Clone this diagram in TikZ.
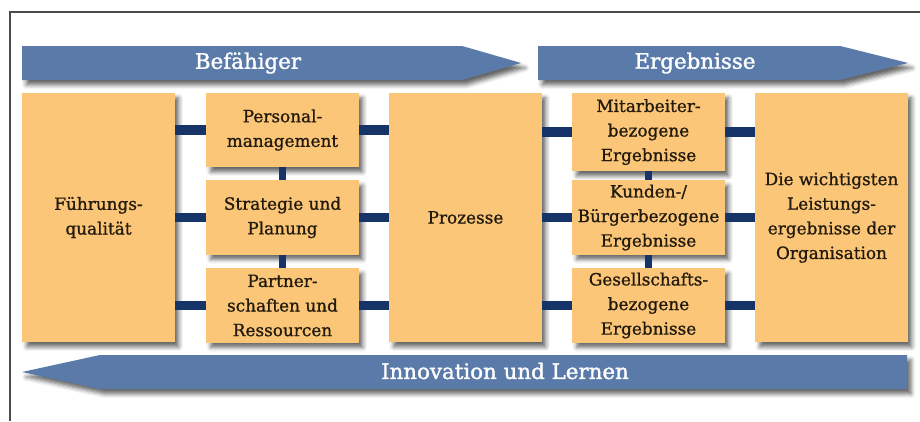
\documentclass[tikz,border=0pt]{standalone}
\usepackage{fontspec}
\setmainfont{DejaVu Serif}
\newfontfamily\boxfont{DejaVu Serif}[FakeBold=1.0]
\newfontfamily\bandfont{DejaVu Serif}[FakeBold=1.4]
\usepackage{tikz}
\usetikzlibrary{shadows.blur}

\definecolor{boxfill}{HTML}{FBC677}
\definecolor{bandblue}{HTML}{5A7BAA}
\definecolor{linkblue}{HTML}{163468}
\definecolor{inktext}{HTML}{221A0E}

\begin{document}
\begin{tikzpicture}[x=0.025cm, y=-0.025cm,
                shade/.style={blur shadow={shadow xshift=3pt, shadow yshift=-3.5pt, shadow opacity=60, shadow blur radius=3pt}},
                box/.style={rectangle, fill=boxfill, text=inktext, align=center, inner sep=0pt,
                            minimum width=3.8cm, minimum height=1.85cm, font=\boxfont\fontsize{12}{17.5}\selectfont, shade},
                tall/.style={box, minimum height=6.225cm},
                band/.style={fill=bandblue, shade},
                bandtext/.style={text=white, font=\bandfont\fontsize{15.2}{17}\selectfont},
                link/.style={draw=linkblue, line width=7pt},
                rung/.style={draw=linkblue, line width=5.5pt},
                frame/.style={draw=black!70, line width=0.9pt}
            ]
            \useasboundingbox (0,0) rectangle (920,421);
            \draw[frame] (920,12) -- (10,12) -- (10,421);

            \path[band] (22,46) -- (462,46) -- (521,63) -- (462,80) -- (22,80) -- cycle;
            \path[band] (538,46) -- (840,46) -- (908,63) -- (840,80) -- (538,80) -- cycle;
            \path[band] (22,372) -- (100,355) -- (907,355) -- (907,389) -- (100,389) -- cycle;
            \node[bandtext] (befaehiger) at (248,63) {Befähiger};
            \node[bandtext] (ergebnisse) at (695,63) {Ergebnisse};
            \node[bandtext] (innovation) at (505,371) {Innovation und Lernen};

            \node[tall] (fuehrung) at (98.5,217.5) {Führungs-\\qualität};
            \node[box] (personal) at (282.5,130) {Personal-\\management};
            \node[box] (strategie) at (282.5,217.5) {Strategie und\\Planung};
            \node[box] (partner) at (282.5,305.5) {Partner-\\schaften und\\Ressourcen};
            \node[tall] (prozesse) at (465.5,217.5) {Prozesse};
            \node[box, minimum height=1.95cm] (mitarbeiter) at (648.5,132) {Mitarbeiter-\\bezogene\\Ergebnisse};
            \node[box] (kunden) at (648.5,217.5) {Kunden-/\\Bürgerbezogene\\Ergebnisse};
            \node[box] (gesellschaft) at (648.5,305.5) {Gesellschafts-\\bezogene\\Ergebnisse};
            \node[tall] (leistung) at (831.5,217.5) {Die wichtigsten\\Leistungs-\\ergebnisse der\\Organisation};

            \draw[link] (fuehrung.east |- personal) -- (personal.west);
            \draw[link] (fuehrung.east |- strategie) -- (strategie.west);
            \draw[link] (fuehrung.east |- partner) -- (partner.west);
            \draw[link] (personal.east) -- (prozesse.west |- personal);
            \draw[link] (strategie.east) -- (prozesse.west |- strategie);
            \draw[link] (partner.east) -- (prozesse.west |- partner);
            \draw[link] (prozesse.east |- mitarbeiter) -- (mitarbeiter.west);
            \draw[link] (prozesse.east |- kunden) -- (kunden.west);
            \draw[link] (prozesse.east |- gesellschaft) -- (gesellschaft.west);
            \draw[link] (mitarbeiter.east) -- (leistung.west |- mitarbeiter);
            \draw[link] (kunden.east) -- (leistung.west |- kunden);
            \draw[link] (gesellschaft.east) -- (leistung.west |- gesellschaft);
            \draw[rung] (personal.south) -- (strategie.north);
            \draw[rung] (strategie.south) -- (partner.north);
            \draw[rung] (mitarbeiter.south) -- (kunden.north);
            \draw[rung] (kunden.south) -- (gesellschaft.north);
            \end{tikzpicture}
\end{document}
